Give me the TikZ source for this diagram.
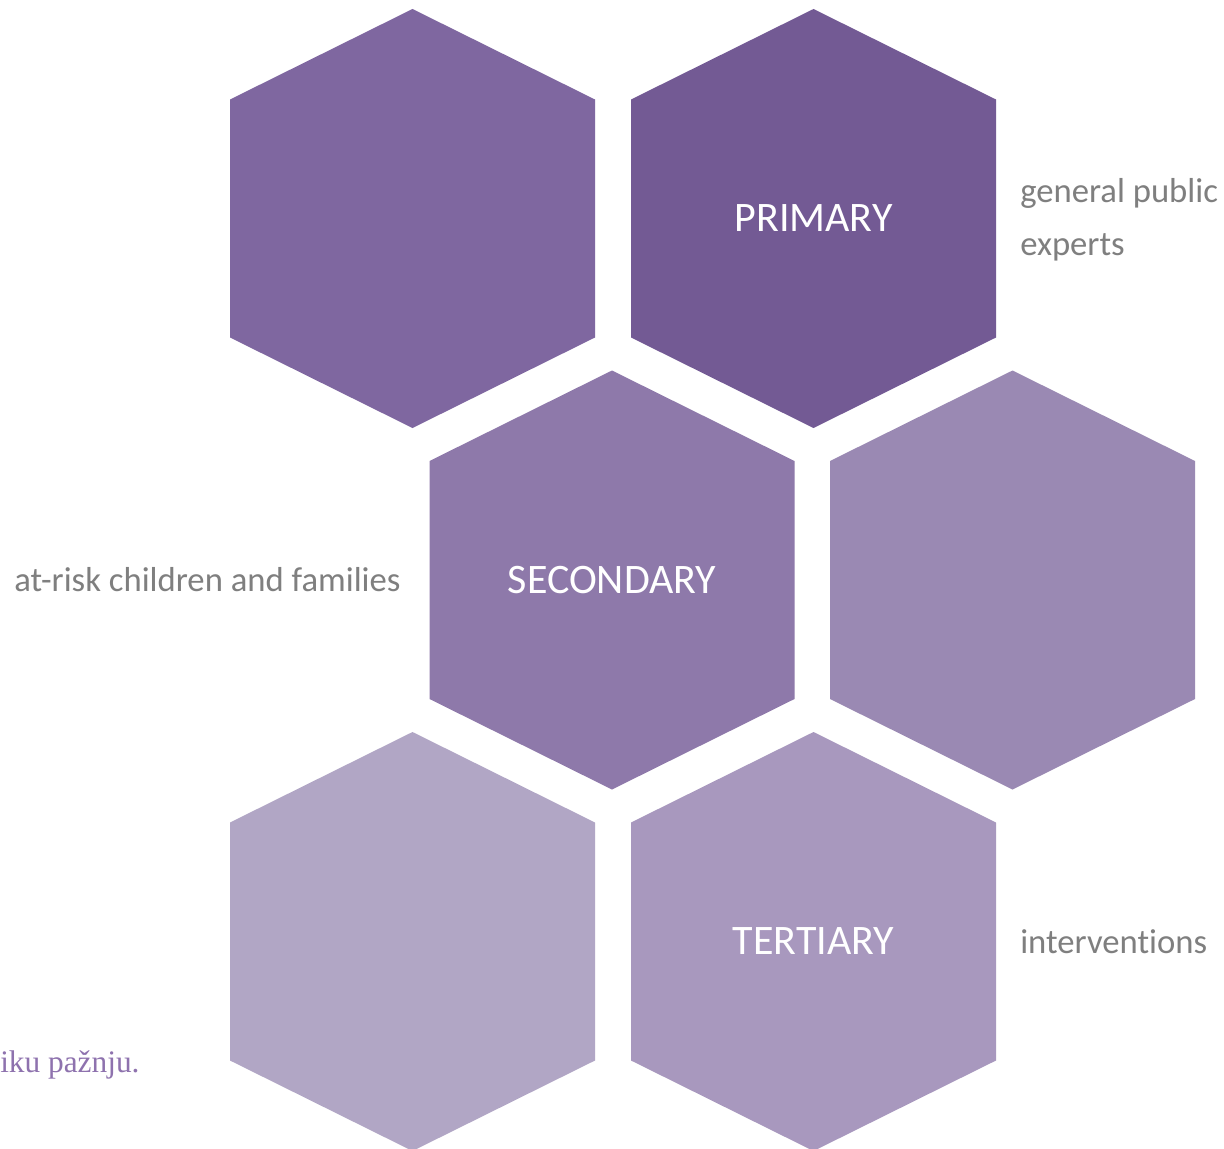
\documentclass[tikz,border=0pt]{standalone}
\usepackage{fontspec}
\setmainfont{Carlito}[Ligatures=CommonOff]
\newfontfamily\quotefont{Liberation Serif}
\usepackage{tikz}
\usetikzlibrary{positioning}

\definecolor{hexA}{HTML}{7F67A0}
\definecolor{hexB}{HTML}{735A94}
\definecolor{hexC}{HTML}{8E79AA}
\definecolor{hexD}{HTML}{9A89B3}
\definecolor{hexE}{HTML}{B1A6C5}
\definecolor{hexF}{HTML}{A898BE}
\definecolor{sidegray}{HTML}{7F7F7F}
\definecolor{quotepurple}{HTML}{8E72AE}

% hexagon cell: centre x, centre y, colour, node name
\newcommand{\hexcell}[4]{%
  \fill[#3, shift={(#1,#2)}] (-182.5,-119) -- (0,-209.5) -- (182.5,-119)
     -- (182.5,119) -- (0,209.5) -- (-182.5,119) -- cycle;
  \node[hexlabel] (#4) at (#1,#2) {};
}

\tikzset{
  hexlabel/.style={inner sep=0pt, text=white, font=\fontsize{31.5}{36}\selectfont},
  sidelabel/.style={anchor=west, inner sep=0pt, text=sidegray, font=\fontsize{26}{30}\selectfont}
}

\begin{document}
\begin{tikzpicture}[x=0.75pt, y=-0.75pt]
        % Canvas
        \fill[white] (0,0) rectangle (1224,1149);
        \useasboundingbox (0,0) rectangle (1224,1149);

        % Hexagons
        \begin{scope}
          \clip (0,0) rectangle (1224,1149);
          \hexcell{412.5}{218.5}{hexA}{hexTL}
          \hexcell{813.5}{218.5}{hexB}{primary}
          \hexcell{612}{580}{hexC}{secondary}
          \hexcell{1012.5}{580}{hexD}{hexMR}
          \hexcell{412.5}{941.5}{hexE}{hexBL}
          \hexcell{813.5}{941.5}{hexF}{tertiary}
        \end{scope}

        % Level names
        \node[hexlabel] at (primary) {PRIMARY};
        \node[hexlabel] at (secondary) {SECONDARY};
        \node[hexlabel] at (tertiary) {TERTIARY};

        % Target groups
        \node[sidelabel] (public) at (1020,193) {general public};
        \node[sidelabel] (experts) at (1020,247) {experts};
        \node[sidelabel] (atrisk) at (14,580) {at-risk children and families};
        \node[sidelabel] (interv) at (1020,942) {interventions};

        % Leftover slide text
        \node[anchor=west, inner sep=0pt, text=quotepurple, font=\quotefont\fontsize{23.5}{27}\selectfont] (quote) at (0,1065) {iku pažnju.};
    \end{tikzpicture}
\end{document}
